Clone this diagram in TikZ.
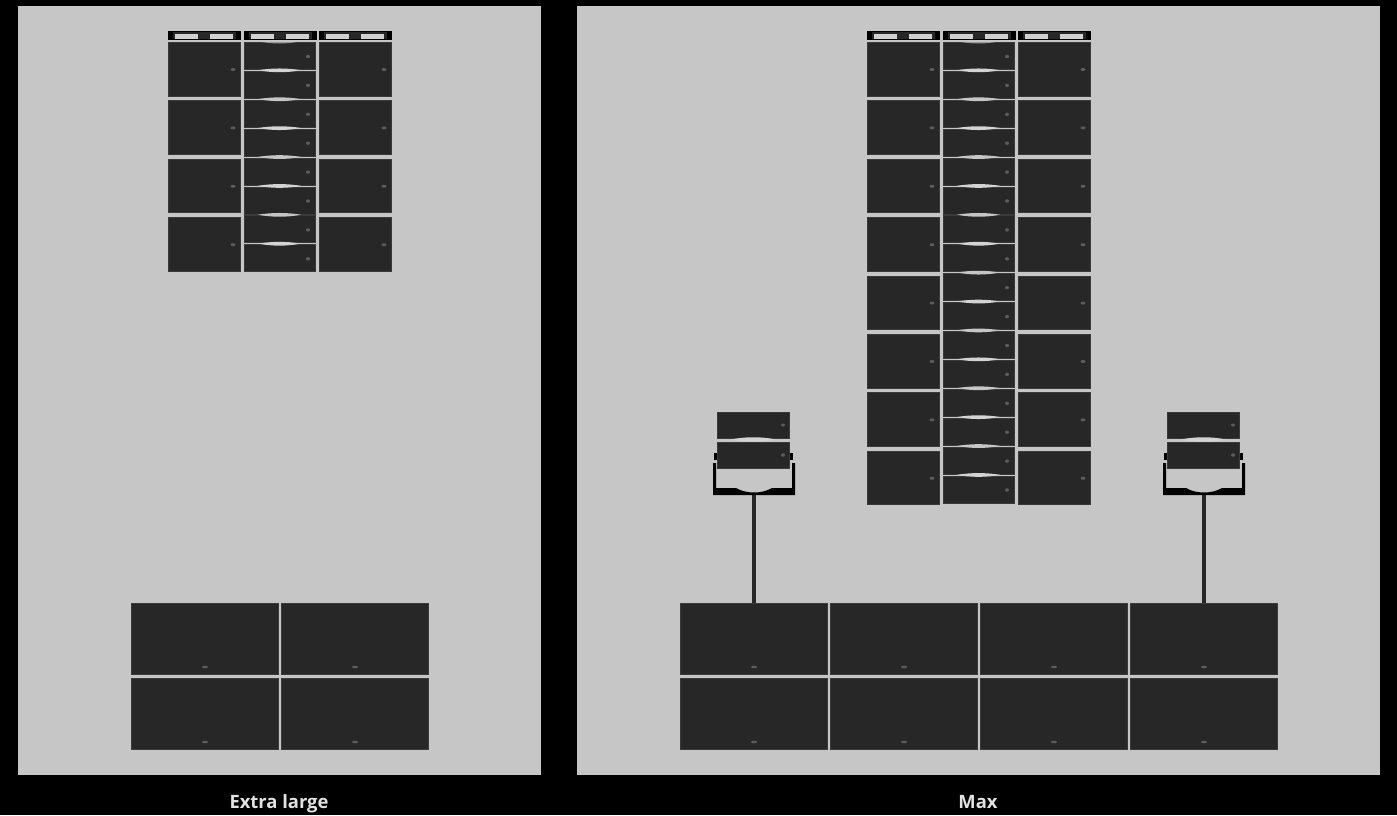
\documentclass[tikz,border=0pt]{standalone}
\usepackage{fontspec}
\setmainfont{Open Sans}
\usetikzlibrary{positioning}
\definecolor{panelgray}{HTML}{C6C6C6}
\definecolor{cabfill}{HTML}{272727}
\definecolor{cabedge}{HTML}{3A3A3A}
\definecolor{lampgray}{HTML}{5C5C5C}
\tikzset{
  panel/.style={fill=panelgray, draw=none},
  cab/.style={fill=cabfill, draw=cabedge, line width=0.5pt},
  lamp/.style={fill=lampgray, draw=none},
  slot/.style={fill=panelgray!80!white, draw=none},
  caption/.style={anchor=base, text=panelgray!50!white, font=\bfseries\fontsize{9.2pt}{11pt}\selectfont},
}
% one column of the hung array: #1 left edge, #2 number of rows
\newcommand{\HangSide}[2]{
  \foreach \r in {1,...,#2} {
    \pgfmathsetmacro{\ytop}{42.5+58.4*(\r-1)}
    \draw[cab] (#1+0.5,\ytop) rectangle ++(72,53.5);
    \fill[lamp] (#1+65,\ytop+27) ellipse (2.5 and 1.5);
  }
}
\newcommand{\HeadBar}[1]{
  \fill[black] (#1,31) rectangle ++(73,9);
  \fill[cabfill] (#1+5,32) rectangle ++(63,7);
  \fill[slot] (#1+7,33.5) rectangle ++(23,5);
  \fill[slot] (#1+42,33.5) rectangle ++(23,5);
}
\newcommand{\HangMid}[2]{
  \foreach \k in {1,...,#2} {
    \pgfmathsetmacro{\ytop}{42.5+28.9*(\k-1)}
    \draw[cab] (#1,\ytop) rectangle ++(71,27);
    \fill[lamp] (#1+64,\ytop+14) ellipse (2 and 1.7);
  }
  \foreach \k in {2,...,#2} {
    \pgfmathsetmacro{\ytop}{42+28.9*(\k-1)}
    \pgfmathtruncatemacro{\shade}{iseven(\k) ? 78 : 100}
    \fill[panelgray!\shade!white] (#1+14,\ytop-0.7) .. controls (#1+28,\ytop-3) and (#1+43,\ytop-3) .. (#1+57,\ytop-0.7)
      .. controls (#1+43,\ytop+2) and (#1+28,\ytop+2) .. cycle;
  }
  \fill[panelgray!70!cabfill] (#1+18,42) .. controls (#1+30,44) and (#1+41,44) .. (#1+53,42) -- cycle;
}
\newcommand{\HangArray}[2]{
  \pgfmathtruncatemacro{\midcount}{2*#2}
  \HeadBar{#1}
  \HeadBar{#1+75.5}
  \HeadBar{#1+151}
  \HangSide{#1}{#2}
  \HangMid{#1+76}{\midcount}
  \HangSide{#1+151}{#2}
}
% small array on its pole: #1 left edge of the cabinets
\newcommand{\PoleArray}[1]{
  \fill[cabfill] (#1+34.5,495) rectangle ++(4,108);
  \fill[black] (#1-4,463) -- (#1-4,495) -- (#1+78,495) -- (#1+78,463) -- (#1+75,463) -- (#1+75,488) -- (#1+55,488)
    .. controls (#1+45,494) and (#1+29,494) .. (#1+19,488) -- (#1-1,488) -- (#1-1,463) -- cycle;
  \fill[black] (#1-3,453) rectangle ++(4,7);
  \fill[black] (#1+72,453) rectangle ++(4,7);
  \draw[cab] (#1+0.5,412.5) rectangle ++(72,25.5);
  \draw[cab] (#1+0.5,442) rectangle ++(72,26.5);
  \fill[panelgray!78!white] (#1+14,439.5) .. controls (#1+28,436.5) and (#1+45,436.5) .. (#1+59,439.5)
    .. controls (#1+45,442.5) and (#1+28,442.5) .. cycle;
  \fill[lamp] (#1+66,425) ellipse (2 and 1.5);
  \fill[lamp] (#1+66,455) ellipse (2 and 1.7);
}
% stack of two rows of subs: #1 left edge, #2 number of columns
\newcommand{\SubStack}[2]{
  \foreach \c in {1,...,#2} {
    \pgfmathsetmacro{\xleft}{#1+150*(\c-1)}
    \draw[cab] (\xleft+0.5,603.5) rectangle ++(147,71);
    \draw[cab] (\xleft+0.5,678.5) rectangle ++(147,71);
    \fill[lamp] (\xleft+74,667) ellipse (3 and 1.3);
    \fill[lamp] (\xleft+74,742) ellipse (3 and 1.3);
  }
}

\begin{document}
\begin{tikzpicture}[x=0.5pt, y=-0.5pt]
  \fill[black] (0,0) rectangle (1397,815);
  \useasboundingbox (0,0) rectangle (1397,815);
  \fill[panel] (18,6) rectangle (541,775);
  \fill[panel] (577,6) rectangle (1380,775);

  \HangArray{168}{4}
  \SubStack{131}{2}

  \HangArray{867}{8}
  \PoleArray{717}
  \PoleArray{1167}
  \SubStack{680}{4}

  \node[caption] (xl) at (279,808) {Extra large};
  \node[caption] (max) at (978,808) {Max};
\end{tikzpicture}
\end{document}
